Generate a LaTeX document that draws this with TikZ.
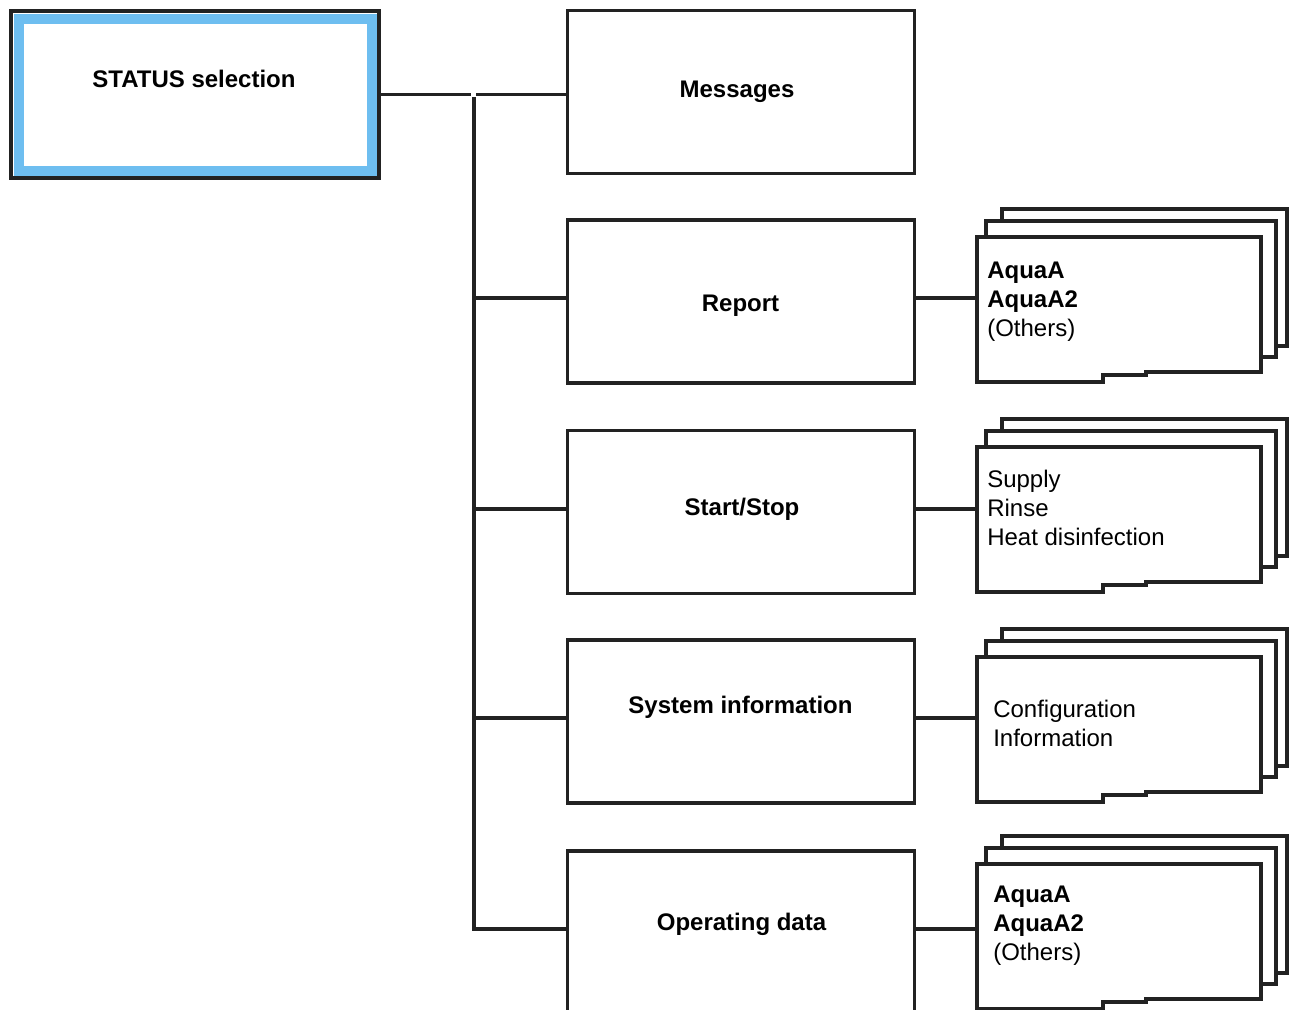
\documentclass[tikz,border=0pt]{standalone}
\usepackage{fontspec}
\setmainfont{Liberation Sans}
\usetikzlibrary{backgrounds}
\definecolor{ink}{RGB}{34,34,34}
\definecolor{bandblue}{RGB}{110,190,240}
\newcommand\paperstack[1]{%
  \filldraw[sheet] (1002,{#1+9}) rectangle (1287,{#1+146});
  \filldraw[sheet] (986,{#1+21}) rectangle (1276,{#1+157});
  \filldraw[sheet] (977,{#1+37}) -- (1261,{#1+37}) -- (1261,{#1+172}) -- (1146,{#1+172}) -- (1146,{#1+175}) -- (1103,{#1+175}) -- (1103,{#1+182}) -- (977,{#1+182}) -- cycle;}
\begin{document}
\begin{tikzpicture}[x=0.75pt,y=-0.75pt,
  ln/.style={draw=ink,line width=2.8pt,line join=miter},
  mainbox/.style={ln,fill=white,rectangle,inner sep=0pt,minimum width=260.25pt,minimum height=122.25pt},
  lbl/.style={font=\fontsize{18}{21.75}\selectfont\bfseries,inner sep=0pt,anchor=base},
  stxt/.style={font=\fontsize{18}{21.75}\selectfont,inner sep=0pt,anchor=north west,align=left},
  sheet/.style={ln,fill=white}]
\useasboundingbox (0,0) rectangle (1292,1010);
\clip (0,0) rectangle (1292,1010);

% STATUS selection
\node[draw=bandblue,line width=7.5pt,fill=white,rectangle,inner sep=0pt,
      minimum width=264.4pt,minimum height=114pt] (status) at (195.25,94.5) {};
\draw[ink,line width=3pt] ([shift={(-2.5,-2.5)}]status.north west) rectangle ([shift={(2.5,2.5)}]status.south east);
\node[lbl] (statustxt) at (194,87) {STATUS selection};

% main boxes
\node[mainbox] (msg) at (741,92) {};
\node[mainbox] (rep) at (741,301.5) {};
\node[mainbox] (ss) at (741,512) {};
\node[mainbox] (sys) at (741,721.5) {};
\node[mainbox] (op) at (741,932.5) {};
\node[lbl] (msgtxt) at (737,97.5) {Messages};
\node[lbl] (reptxt) at (740.5,311.5) {Report};
\node[lbl] (sstxt) at (742,515.5) {Start/Stop};
\node[lbl] (systxt) at (740.5,713.5) {System information};
\node[lbl] (optxt) at (741.5,930.5) {Operating data};

% stacks
\paperstack{200}
\paperstack{410}
\paperstack{620}
\paperstack{827}
\node[stxt] (reps) at (987,261.4) {\textbf{AquaA}\\\textbf{AquaA2}\\(Others)};
\node[stxt] (sss) at (987,469.4) {Supply\\Rinse\\Heat disinfection};
\node[stxt] (syss) at (993,699.4) {Configuration\\Information};
\node[stxt] (ops) at (993,885.4) {\textbf{AquaA}\\\textbf{AquaA2}\\(Others)};

% connectors
\coordinate (jl) at (471,94.5);
\coordinate (jr) at (476,94.5);
\coordinate (jt) at (474,97);
\coordinate (j1) at (474,298);
\coordinate (j2) at (474,509);
\coordinate (j3) at (474,718);
\coordinate (j4) at (474,929);
\coordinate (s1) at (977,298);
\coordinate (s2) at (977,509);
\coordinate (s3) at (977,718);
\coordinate (s4) at (977,929);
\begin{scope}[on background layer]
\draw[ln] (status.east) -- (jl);
\draw[ln] (jr) -- (jr -| msg.west);
\draw[ln] (jt) -- (j4) -- (j4 -| op.west);
\draw[ln] (j1) -- (j1 -| rep.west);
\draw[ln] (j2) -- (j2 -| ss.west);
\draw[ln] (j3) -- (j3 -| sys.west);
\draw[ln] (s1 -| rep.east) -- (s1);
\draw[ln] (s2 -| ss.east) -- (s2);
\draw[ln] (s3 -| sys.east) -- (s3);
\draw[ln] (s4 -| op.east) -- (s4);
\end{scope}
\end{tikzpicture}
\end{document}
